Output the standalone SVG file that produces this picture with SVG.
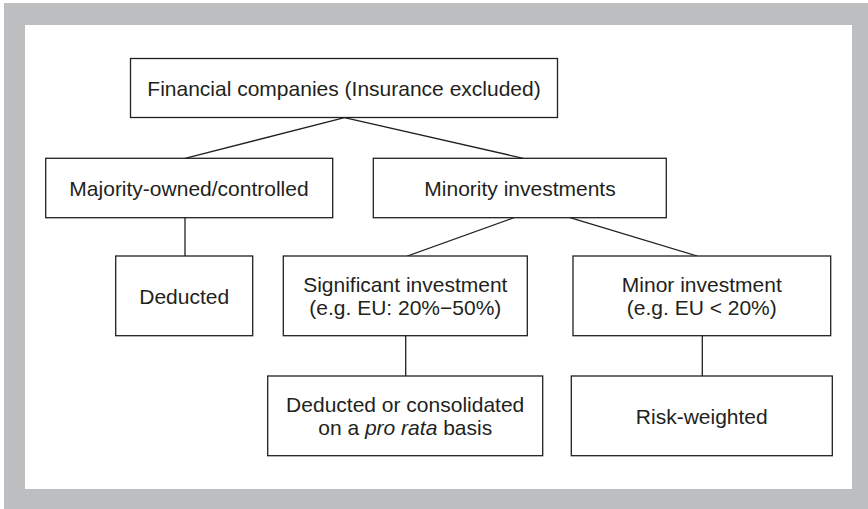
<svg xmlns="http://www.w3.org/2000/svg" width="868" height="509" viewBox="0 0 868 509">
<style>
.box{fill:#ffffff;stroke:#231f20;stroke-width:1.3}
.t{font-family:"Liberation Sans",Arial,sans-serif;font-size:21px;fill:#231f20;text-anchor:middle}
.c{stroke:#231f20;stroke-width:1.3;fill:none}
</style>
<rect x="0" y="0" width="868" height="509" fill="#ffffff"/>
<rect x="4" y="3" width="864" height="506" fill="#bcbec0"/>
<rect x="25" y="25" width="827" height="464" fill="#ffffff"/>
<g id="connectors">
<line class="c" x1="344.5" y1="117.7" x2="185" y2="158.3"/>
<line class="c" x1="344.5" y1="117.7" x2="523.3" y2="158.3"/>
<line class="c" x1="185" y1="217.7" x2="185" y2="256"/>
<line class="c" x1="514" y1="217.7" x2="407.3" y2="256"/>
<line class="c" x1="570" y1="217.7" x2="697.3" y2="256"/>
<line class="c" x1="405.7" y1="335.7" x2="405.7" y2="376"/>
<line class="c" x1="702.3" y1="335.7" x2="702.3" y2="376"/>
</g>
<g id="financial">
<rect class="box" x="130.5" y="58.5" width="427" height="59"/>
<text class="t" x="344" y="95.5">Financial companies (Insurance excluded)</text>
</g>
<g id="majority">
<rect class="box" x="45.7" y="158.3" width="287" height="59.4"/>
<text class="t" x="189" y="195.5">Majority-owned/controlled</text>
</g>
<g id="minority">
<rect class="box" x="373.3" y="158.3" width="293" height="59.4"/>
<text class="t" x="520" y="195.5">Minority investments</text>
</g>
<g id="deducted">
<rect class="box" x="115.7" y="256" width="137" height="79.7"/>
<text class="t" x="184.2" y="303.5">Deducted</text>
</g>
<g id="significant">
<rect class="box" x="283.3" y="256" width="244" height="79.7"/>
<text class="t" x="405.3" y="291.5">Significant investment</text>
<text class="t" x="405.3" y="315.2">(e.g. EU: 20%−50%)</text>
</g>
<g id="minor">
<rect class="box" x="573" y="256" width="257.7" height="79.7"/>
<text class="t" x="701.8" y="291.5">Minor investment</text>
<text class="t" x="701.8" y="315.2">(e.g. EU &lt; 20%)</text>
</g>
<g id="consolidated">
<rect class="box" x="267.7" y="376" width="275" height="79.7"/>
<text class="t" x="405.2" y="411.5">Deducted or consolidated</text>
<text class="t" x="405.2" y="435.2">on a <tspan font-style="italic">pro rata</tspan> basis</text>
</g>
<g id="risk">
<rect class="box" x="571.3" y="376" width="261" height="79.7"/>
<text class="t" x="701.8" y="423.5">Risk-weighted</text>
</g>
</svg>
